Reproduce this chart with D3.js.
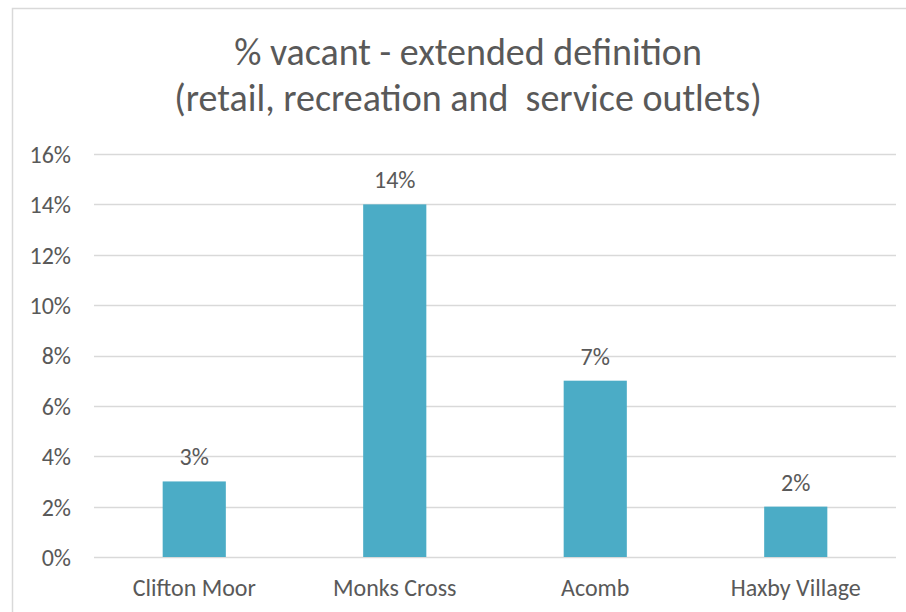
<!DOCTYPE html>
<html>
<head>
<meta charset="utf-8">
<script src="https://cdn.jsdelivr.net/npm/d3@7"></script>
<style>
  body { margin: 0; background: #fff; }
  svg text { font-family: Carlito, Lato, "Open Sans", sans-serif; fill: #595959; }
</style>
</head>
<body>
<div id="chart"></div>
<script>
const categories = ['Clifton Moor', 'Monks Cross', 'Acomb', 'Haxby Village'];
const vacantPct = [3, 14, 7, 2];
const yTicks = [0, 2, 4, 6, 8, 10, 12, 14, 16];
const titleLines = ['% vacant - extended definition', '(retail, recreation and  service outlets)'];

const width = 906;
const height = 612;
const margin = { top: 154, right: 10, bottom: 55, left: 94 };

const svg = d3.select('#chart')
  .append('svg')
  .attr('width', width)
  .attr('height', height);

// chart frame (right/bottom run off the picture)
svg.append('rect')
  .attr('x', 12.5).attr('y', 8.5)
  .attr('width', 920).attr('height', 620)
  .attr('fill', 'none')
  .attr('stroke', '#d9d9d9')
  .attr('stroke-width', 1.5);

const x = d3.scaleBand()
  .domain(categories)
  .range([margin.left, width - margin.right])
  .paddingInner(0.685)
  .paddingOuter(0.3425);

const y = d3.scaleLinear()
  .domain([0, 16])
  .range([height - margin.bottom, margin.top]);

// gridlines
svg.append('g')
  .selectAll('line')
  .data(yTicks)
  .join('line')
  .attr('x1', margin.left)
  .attr('x2', width - margin.right)
  .attr('y1', d => Math.round(y(d)) + 0.5)
  .attr('y2', d => Math.round(y(d)) + 0.5)
  .attr('stroke', '#d9d9d9')
  .attr('stroke-width', 1.3);

// y axis labels
const yAxis = svg.append('g')
  .attr('transform', `translate(${margin.left - 23},0)`)
  .call(d3.axisLeft(y).tickValues(yTicks).tickFormat(d => d + '%').tickSize(0));
yAxis.select('.domain').remove();
yAxis.selectAll('text')
  .attr('x', 0)
  .attr('dy', '0.35em')
  .style('font-size', '24px')
  .attr('fill', '#595959');

// bars
svg.selectAll('rect.bar')
  .data(categories)
  .join('rect')
  .attr('class', 'bar')
  .attr('x', d => x(d))
  .attr('y', (d, i) => y(vacantPct[i]))
  .attr('width', x.bandwidth())
  .attr('height', (d, i) => y(0) - y(vacantPct[i]))
  .attr('fill', '#4bacc6');

// value labels
svg.selectAll('text.val')
  .data(categories)
  .join('text')
  .attr('class', 'val')
  .attr('x', d => x(d) + x.bandwidth() / 2)
  .attr('y', (d, i) => y(vacantPct[i]) - 16)
  .attr('text-anchor', 'middle')
  .style('font-size', '24px')
  .text((d, i) => vacantPct[i] + '%');

// x axis labels
const xAxis = svg.append('g')
  .attr('transform', `translate(0,${height - margin.bottom})`)
  .call(d3.axisBottom(x).tickSize(0));
xAxis.select('.domain').remove();
xAxis.selectAll('text')
  .attr('y', 39)
  .attr('dy', 0)
  .style('font-size', '24px')
  .attr('fill', '#595959');

// title
svg.append('g')
  .selectAll('text')
  .data(titleLines)
  .join('text')
  .attr('x', 468)
  .attr('y', (d, i) => 65 + i * 46)
  .attr('text-anchor', 'middle')
  .style('font-size', '38px')
  .style('white-space', 'pre')
  .text(d => d);
</script>
</body>
</html>
